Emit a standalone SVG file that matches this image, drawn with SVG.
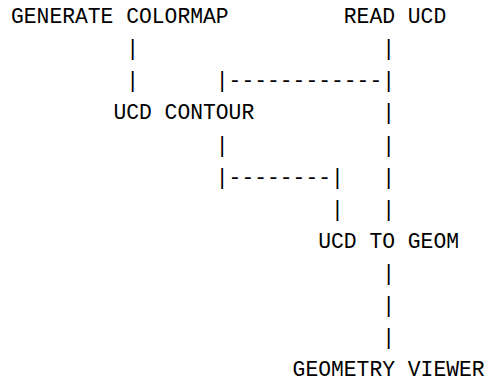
<svg xmlns="http://www.w3.org/2000/svg" width="489" height="381" viewBox="0 0 489 381">
<style>
text{font-family:"Liberation Mono","Courier New",monospace;font-size:21.33px;fill:#000;white-space:pre}
</style>
<rect width="489" height="381" fill="#fff"/>
<g id="generate-colormap"><text x="11" y="23.3">GENERATE COLORMAP</text></g>
<g id="read-ucd"><text x="343.8" y="23.3">READ UCD</text></g>
<g id="ucd-contour"><text x="113.4" y="119.4">UCD CONTOUR</text></g>
<g id="ucd-to-geom"><text x="318.2" y="247.6">UCD TO GEOM</text></g>
<g id="geometry-viewer"><text x="292.6" y="375.7">GEOMETRY VIEWER</text></g>
<g id="connectors">
<text x="126.2" y="55.3">|</text>
<text x="382.2" y="55.3">|</text>
<text x="126.2" y="87.4">|</text>
<text x="215.8" y="87.4">|------------|</text>
<text x="382.2" y="119.4">|</text>
<text x="215.8" y="151.5">|</text>
<text x="382.2" y="151.5">|</text>
<text x="215.8" y="183.5">|--------|</text>
<text x="382.2" y="183.5">|</text>
<text x="331" y="215.5">|</text>
<text x="382.2" y="215.5">|</text>
<text x="382.2" y="279.6">|</text>
<text x="382.2" y="311.7">|</text>
<text x="382.2" y="343.7">|</text>
</g>
</svg>
